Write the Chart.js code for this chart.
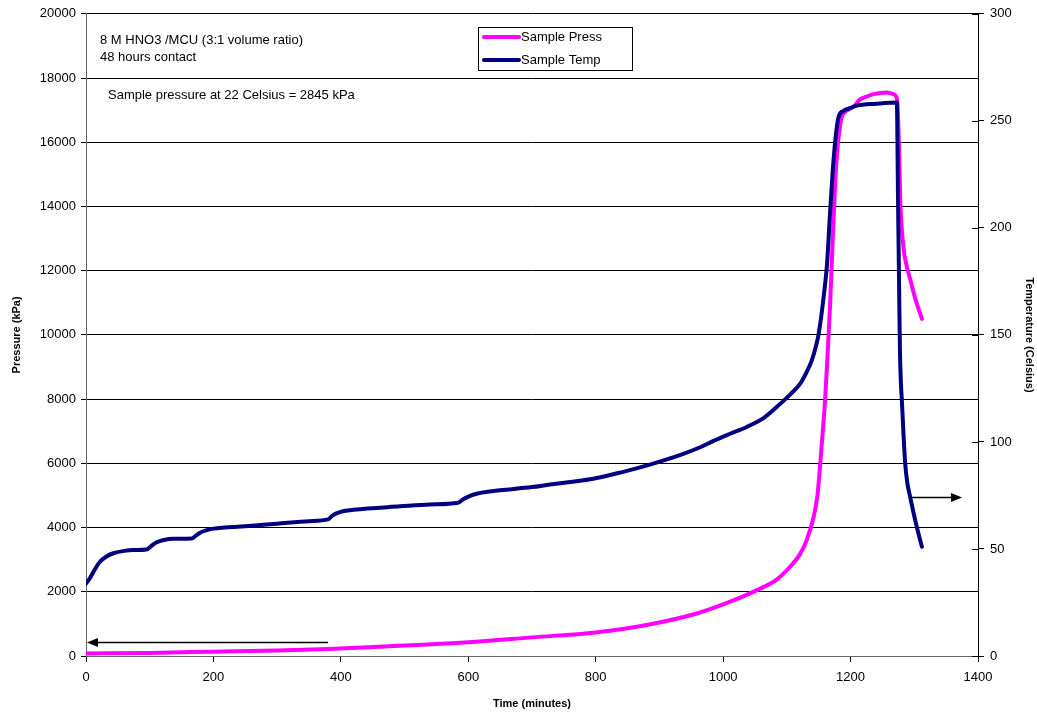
<!DOCTYPE html>
<html>
<head>
<meta charset="utf-8">
<script src="https://cdn.jsdelivr.net/npm/chart.js@4/dist/chart.umd.min.js"></script>
<style>
  html, body { margin: 0; padding: 0; background: #fff; }
  #wrap { width: 1037px; height: 715px; position: relative; }
</style>
</head>
<body>
<div id="wrap"><canvas id="chart"></canvas></div>
<script>
// time in minutes
const pressTime = [0, 100, 200, 300, 380, 461, 530, 600, 700, 800, 880, 960, 1011, 1053, 1084, 1105, 1120, 1131, 1142, 1148, 1152, 1156, 1160, 1165, 1168, 1172, 1176, 1179, 1182, 1186, 1192, 1199, 1207, 1214, 1225, 1236, 1257, 1267, 1273, 1276, 1278, 1283, 1288, 1294, 1302, 1312];
// pressure, kPa
const pressKPa = [80, 95, 135, 175, 220, 290, 350, 425, 580, 735, 965, 1330, 1690, 2050, 2380, 2780, 3150, 3600, 4330, 5000, 5890, 6900, 7960, 9800, 11000, 13000, 14800, 15700, 16300, 16780, 16950, 17040, 17150, 17320, 17420, 17500, 17550, 17500, 17340, 15800, 14180, 12730, 12150, 11700, 11100, 10500];

const tempTime = [0, 6, 14, 22, 32, 43, 60, 74, 95, 103, 111, 122, 137, 166, 172, 179, 190, 200, 250, 300, 350, 380, 386, 393, 405, 420, 493, 540, 584, 592, 602, 613, 630, 650, 700, 728, 760, 796, 840, 885, 932, 964, 985, 1010, 1037, 1065, 1090, 1105, 1121, 1130, 1139, 1145, 1150, 1157, 1163, 1168, 1172, 1176, 1181, 1189, 1200, 1210, 1240, 1272.6, 1274.5, 1276.5, 1277.5, 1279, 1280.5, 1283, 1285.7, 1289, 1293.6, 1300, 1306, 1312];
// temperature, Celsius
const tempC = [33.9, 36.3, 40.5, 44.0, 46.5, 48.0, 49.1, 49.5, 49.8, 51.5, 53.1, 54.2, 54.8, 54.9, 56.1, 57.6, 58.8, 59.5, 60.6, 61.8, 63.0, 63.8, 65.4, 66.6, 67.7, 68.3, 69.9, 70.8, 71.6, 73.2, 74.7, 75.8, 76.7, 77.4, 78.9, 80.1, 81.3, 82.8, 85.8, 89.4, 93.8, 97.5, 100.5, 103.7, 107.0, 111.5, 117.9, 122.1, 127.2, 132.0, 138.0, 144.0, 150.6, 166.0, 183.0, 208.0, 226.5, 240.8, 251.7, 254.7, 256.0, 257.1, 258.0, 258.6, 213.0, 165.0, 142.5, 127.5, 119.4, 104.1, 90.0, 81.0, 74.2, 65.3, 57.8, 51.0];

const seriesNames = ["Sample Press", "Sample Temp"];
const seriesColors = ["#FF00FF", "#000080"];

const notes = ["8 M HNO3 /MCU (3:1 volume ratio)", "48 hours contact", "Sample pressure at 22 Celsius = 2845 kPa"];

const FONT = "'Liberation Sans', Arial, sans-serif";

const toPoints = (xs, ys) => xs.map((x, i) => ({ x: x, y: ys[i] }));
const plain = v => String(v);

// text, legend box, arrows and the crossing ticks of the right axis
const extras = {
  id: "extras",
  afterDatasetsDraw(chart) {
    const ctx = chart.ctx;
    const x = chart.scales.x, y = chart.scales.y, y2 = chart.scales.y2;
    ctx.save();

    // inner half of right axis ticks
    ctx.strokeStyle = "#000";
    ctx.lineWidth = 1;
    y2.ticks.forEach(t => {
      const py = Math.round(y2.getPixelForValue(t.value)) + 0.5;
      ctx.beginPath();
      ctx.moveTo(y2.left - 6, py);
      ctx.lineTo(y2.left, py);
      ctx.stroke();
    });

    // notes
    ctx.fillStyle = "#000";
    ctx.font = "13px " + FONT;
    ctx.textBaseline = "middle";
    ctx.textAlign = "left";
    ctx.fillText(notes[0], 100, 40);
    ctx.fillText(notes[1], 100, 57);
    ctx.fillText(notes[2], 108, 95);

    // legend
    ctx.fillStyle = "#fff";
    ctx.fillRect(478.5, 27.5, 154, 43);
    ctx.strokeStyle = "#000";
    ctx.strokeRect(478.5, 27.5, 154, 43);
    [37, 60].forEach((ly, i) => {
      ctx.strokeStyle = seriesColors[i];
      ctx.lineWidth = 4;
      ctx.lineCap = "round";
      ctx.beginPath();
      ctx.moveTo(484, ly);
      ctx.lineTo(519, ly);
      ctx.stroke();
      ctx.fillStyle = "#000";
      ctx.fillText(seriesNames[i], 521, ly);
    });

    // arrows
    const arrow = (x0, x1, py) => {
      ctx.strokeStyle = "#000";
      ctx.fillStyle = "#000";
      ctx.lineWidth = 1.3;
      ctx.lineCap = "butt";
      const dir = Math.sign(x1 - x0);
      ctx.beginPath();
      ctx.moveTo(x0, py);
      ctx.lineTo(x1 - dir * 8, py);
      ctx.stroke();
      ctx.beginPath();
      ctx.moveTo(x1, py);
      ctx.lineTo(x1 - dir * 11, py - 4.5);
      ctx.lineTo(x1 - dir * 11, py + 4.5);
      ctx.closePath();
      ctx.fill();
    };
    arrow(x.getPixelForValue(380), x.getPixelForValue(0) + 1, Math.round(y.getPixelForValue(435)) + 0.5);
    arrow(x.getPixelForValue(1293), x.getPixelForValue(1375), Math.round(y2.getPixelForValue(74.2)) + 0.5);

    ctx.restore();
  }
};

new Chart(document.getElementById("chart"), {
  type: "line",
  data: {
    datasets: [
      {
        label: seriesNames[0],
        data: toPoints(pressTime, pressKPa),
        yAxisID: "y",
        borderColor: seriesColors[0],
        borderWidth: 4,
        pointRadius: 0,
        cubicInterpolationMode: "monotone",
        order: 2
      },
      {
        label: seriesNames[1],
        data: toPoints(tempTime, tempC),
        yAxisID: "y2",
        borderColor: seriesColors[1],
        borderWidth: 4,
        pointRadius: 0,
        cubicInterpolationMode: "monotone",
        order: 1
      }
    ]
  },
  options: {
    responsive: true,
    maintainAspectRatio: false,
    animation: false,
    layout: { padding: { top: 13, left: 0, right: 0, bottom: 0 } },
    plugins: {
      legend: { display: false },
      tooltip: { enabled: false }
    },
    elements: { line: { borderCapStyle: "round", borderJoinStyle: "round" } },
    scales: {
      x: {
        type: "linear",
        min: 0,
        max: 1400,
        ticks: { stepSize: 200, color: "#000", font: { family: FONT, size: 13 }, padding: 8, maxRotation: 0, callback: plain },
        grid: { drawOnChartArea: false, drawTicks: true, tickLength: 6, color: "#000" },
        border: { color: "#666", width: 1 },
        title: { display: true, text: "Time (minutes)", color: "#000", font: { family: FONT, size: 11, weight: "bold" }, padding: { top: 6, bottom: 4 } },
        afterFit: s => { s.height = 59; }
      },
      y: {
        position: "left",
        min: 0,
        max: 20000,
        ticks: { stepSize: 2000, color: "#000", font: { family: FONT, size: 13 }, padding: 5, callback: plain },
        grid: { color: "#000", lineWidth: 1, tickLength: 5 },
        border: { color: "#666", width: 1 },
        title: { display: true, text: "Pressure (kPa)", color: "#000", font: { family: FONT, size: 11, weight: "bold" }, padding: { top: 10, bottom: 4 } },
        afterFit: s => { s.width = 86; }
      },
      y2: {
        position: "right",
        min: 0,
        max: 300,
        ticks: { stepSize: 50, color: "#000", font: { family: FONT, size: 13 }, padding: 6, callback: plain },
        grid: { drawOnChartArea: false, color: "#000", tickLength: 6 },
        border: { color: "#000", width: 1 },
        title: { display: true, text: "Temperature (Celsius)", color: "#000", font: { family: FONT, size: 11, weight: "bold" }, padding: { top: 1, bottom: 2 } },
        afterFit: s => { s.width = 59; }
      }
    }
  },
  plugins: [extras]
});
</script>
</body>
</html>
